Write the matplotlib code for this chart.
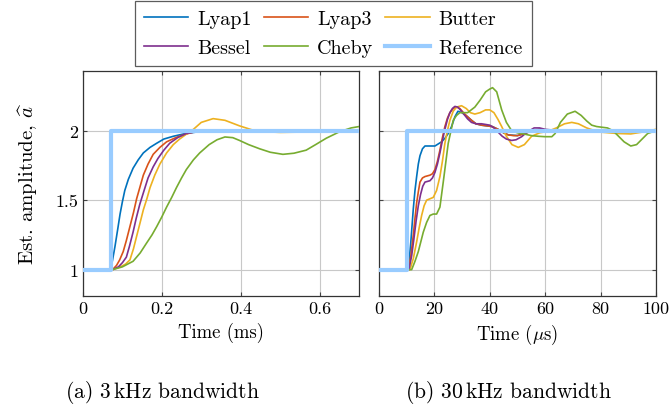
import matplotlib
matplotlib.use('Agg')
import matplotlib.pyplot as plt

# 估计幅值的阶跃响应，左: 3 kHz 带宽 (ms)，右: 30 kHz 带宽 (µs)

labels = ['Lyap1', 'Lyap3', 'Butter', 'Bessel', 'Cheby', 'Reference']
colors = ['#0072BD', '#D95319', '#EDB120', '#7E2F8E', '#77AC30', '#99CCFF']

# ---------- (a) 3 kHz ----------
t_lyap1_a = [0, 0.07, 0.075, 0.081, 0.088, 0.094, 0.1, 0.106, 0.115, 0.127, 0.14, 0.153, 0.17, 0.187,
             0.205, 0.229, 0.26, 0.3, 0.4, 0.7]
v_lyap1_a = [1, 1, 1.07, 1.165, 1.29, 1.40, 1.49, 1.57, 1.65, 1.73, 1.79, 1.84, 1.88, 1.91,
             1.94, 1.96, 1.98, 1.995, 2.0, 2.0]

t_lyap3_a = [0, 0.075, 0.085, 0.093, 0.102, 0.11, 0.119, 0.128, 0.136, 0.145, 0.153, 0.165, 0.178,
             0.195, 0.212, 0.235, 0.254, 0.28, 0.4, 0.7]
v_lyap3_a = [1, 1, 1.03, 1.07, 1.13, 1.21, 1.31, 1.41, 1.51, 1.60, 1.68, 1.76, 1.83,
             1.88, 1.92, 1.95, 1.97, 1.99, 2.0, 2.0]

t_butter_a = [0, 0.075, 0.095, 0.108, 0.119, 0.128, 0.136, 0.145, 0.153, 0.162, 0.17, 0.182, 0.195,
              0.212, 0.229, 0.245, 0.262, 0.28, 0.3, 0.33, 0.36, 0.397, 0.43, 0.465, 0.5, 0.549, 0.6, 0.7]
v_butter_a = [1, 1, 1.02, 1.04, 1.07, 1.15, 1.24, 1.34, 1.43, 1.51, 1.59, 1.68, 1.76,
              1.84, 1.90, 1.94, 1.975, 2.01, 2.06, 2.087, 2.075, 2.035, 2.005, 1.992, 1.988, 1.99, 2.0, 2.0]

t_bessel_a = [0, 0.075, 0.09, 0.1, 0.11, 0.118, 0.127, 0.135, 0.144, 0.155, 0.165, 0.178, 0.19,
              0.205, 0.22, 0.24, 0.262, 0.29, 0.4, 0.7]
v_bessel_a = [1, 1, 1.02, 1.05, 1.09, 1.17, 1.27, 1.37, 1.47, 1.57, 1.66, 1.74, 1.80,
              1.86, 1.91, 1.95, 1.98, 1.995, 2.0, 2.0]

t_cheby_a = [0, 0.075, 0.1, 0.127, 0.145, 0.161, 0.175, 0.187, 0.2, 0.212, 0.225, 0.237, 0.25, 0.262,
             0.28, 0.296, 0.32, 0.34, 0.36, 0.38, 0.397, 0.42, 0.448, 0.475, 0.507, 0.535, 0.566,
             0.59, 0.617, 0.651, 0.68, 0.7]
v_cheby_a = [1, 1, 1.02, 1.06, 1.12, 1.19, 1.25, 1.31, 1.38, 1.45, 1.52, 1.59, 1.66, 1.72,
             1.79, 1.84, 1.90, 1.935, 1.955, 1.95, 1.93, 1.90, 1.87, 1.845, 1.83, 1.838, 1.86,
             1.90, 1.946, 1.993, 2.02, 2.03]

t_ref_a = [0, 0.07, 0.07, 0.7]
v_ref_a = [1, 1, 2, 2]

# ---------- (b) 30 kHz ----------
t_lyap1_b = [0, 10.6, 11.5, 12.4, 13.0, 13.6, 14.2, 14.8, 15.7, 16.6, 18.4, 20.2, 21.4, 22.6, 24,
             25, 26.2, 27.4, 28.5, 30, 32, 33.4, 35, 37, 40.9, 43, 45, 46.7, 50, 54, 58, 65, 80, 100]
v_lyap1_b = [1, 1, 1.2, 1.44, 1.57, 1.67, 1.76, 1.82, 1.87, 1.89, 1.89, 1.89, 1.905, 1.92, 1.95,
             1.98, 2.03, 2.10, 2.14, 2.13, 2.10, 2.075, 2.05, 2.04, 2.03, 2.01, 1.985, 1.97, 1.965,
             1.99, 2.01, 1.995, 2.0, 2.0]

t_lyap3_b = [0, 10.6, 11.5, 12.4, 13.0, 13.6, 14.2, 14.8, 15.7, 16.6, 17.5, 18.4, 19.3, 20.2, 21.1,
             22, 22.9, 23.8, 24.7, 25.6, 26.8, 28, 29.2, 30.5, 32, 33.4, 35, 37, 39, 40.9, 43, 45,
             46.7, 48.5, 50, 52, 54, 56, 58, 60, 65, 70, 75, 80, 90, 100]
v_lyap3_b = [1, 1, 1.1, 1.25, 1.37, 1.48, 1.56, 1.63, 1.66, 1.67, 1.675, 1.68, 1.69, 1.72, 1.78,
             1.86, 1.95, 2.03, 2.09, 2.13, 2.16, 2.17, 2.16, 2.13, 2.10, 2.075, 2.05, 2.04, 2.035,
             2.03, 2.01, 1.985, 1.97, 1.965, 1.965, 1.975, 1.99, 2.005, 2.01, 2.005, 1.995, 2.0,
             2.005, 2.0, 2.0, 2.0]

t_butter_b = [0, 11.2, 12.4, 13.6, 14.5, 15.4, 16.3, 17.2, 18.4, 19.6, 20.8, 22, 22.9, 23.8, 24.7,
              25.6, 26.8, 28, 29.8, 31.5, 33, 34.6, 36.5, 38.5, 40, 41.5, 43, 44.3, 46, 48, 50.3,
              52.5, 55.1, 58, 61, 64, 67, 69.6, 72, 75, 78, 80, 83, 86, 90.9, 95, 100]
v_butter_b = [1, 1, 1.08, 1.2, 1.3, 1.39, 1.46, 1.50, 1.51, 1.52, 1.57, 1.67, 1.78, 1.91, 2.0,
              2.075, 2.14, 2.17, 2.18, 2.16, 2.13, 2.12, 2.13, 2.15, 2.15, 2.13, 2.08, 2.03, 1.96,
              1.90, 1.88, 1.90, 1.96, 1.985, 1.995, 2.02, 2.05, 2.06, 2.05, 2.02, 2.0, 1.99,
              1.985, 1.98, 1.977, 1.99, 2.01]

t_bessel_b = [0, 10.8, 11.8, 12.6, 13.4, 14.2, 15, 15.8, 16.6, 17.5, 18.4, 19.3, 20.2, 21.1, 22,
              22.9, 23.8, 24.7, 25.6, 26.5, 27.4, 28.5, 29.8, 31, 32, 33.4, 35, 37, 40, 41.5, 43,
              44.5, 46, 47.9, 49.5, 51.5, 53.5, 56, 58, 60, 65, 70, 80, 100]
v_bessel_b = [1, 1, 1.1, 1.22, 1.35, 1.46, 1.54, 1.60, 1.63, 1.635, 1.64, 1.66, 1.70, 1.76, 1.84,
              1.93, 2.01, 2.08, 2.13, 2.16, 2.175, 2.17, 2.14, 2.11, 2.085, 2.06, 2.05, 2.05, 2.04,
              2.02, 1.99, 1.96, 1.94, 1.93, 1.935, 1.957, 1.99, 2.02, 2.02, 2.01, 2.0, 2.0, 2.0, 2.0]

t_cheby_b = [0, 11.8, 13, 14.2, 15.1, 16, 17.2, 18.4, 19.6, 20.8, 22, 23.2, 24.1, 25, 26, 26.8, 28,
             29.2, 30.4, 32, 34.6, 36.5, 38.5, 40, 41, 42.5, 44.3, 46, 47.9, 50, 52.7, 55, 57.5, 60,
             62.4, 63.6, 65.5, 68, 70.8, 73, 75, 76.8, 78.6, 80.5, 82.5, 84.5, 86.5, 88.5, 90.9, 93,
             95, 97, 100]
v_cheby_b = [1, 1, 1.06, 1.13, 1.2, 1.27, 1.34, 1.39, 1.40, 1.40, 1.45, 1.63, 1.77, 1.91, 2.0,
             2.075, 2.11, 2.13, 2.13, 2.13, 2.17, 2.22, 2.28, 2.30, 2.31, 2.28, 2.15, 2.06, 2.0,
             1.985, 1.975, 1.965, 1.96, 1.957, 1.957, 1.98, 2.06, 2.12, 2.14, 2.11, 2.07, 2.04,
             2.03, 2.025, 2.02, 2.0, 1.96, 1.92, 1.89, 1.9, 1.94, 1.98, 2.0]

t_ref_b = [0, 10, 10, 100]
v_ref_b = [1, 1, 2, 2]

data_a = [(t_lyap1_a, v_lyap1_a), (t_lyap3_a, v_lyap3_a), (t_butter_a, v_butter_a),
          (t_bessel_a, v_bessel_a), (t_cheby_a, v_cheby_a), (t_ref_a, v_ref_a)]
data_b = [(t_lyap1_b, v_lyap1_b), (t_lyap3_b, v_lyap3_b), (t_butter_b, v_butter_b),
          (t_bessel_b, v_bessel_b), (t_cheby_b, v_cheby_b), (t_ref_b, v_ref_b)]

# 字体: 类似 LaTeX 的 Computer Modern
plt.rcParams['font.family'] = ['cmr10', 'DejaVu Serif']
plt.rcParams['mathtext.fontset'] = 'cm'
plt.rcParams['axes.formatter.use_mathtext'] = True
plt.rcParams['font.size'] = 13

fig = plt.figure(figsize=(6.71, 4.10), dpi=100)
ax1 = fig.add_axes([0.1237, 0.2756, 0.4113, 0.5488])
ax2 = fig.add_axes([0.5648, 0.2756, 0.4128, 0.5488])

lines = []
for ax, data in [(ax1, data_a), (ax2, data_b)]:
    for i, (t, v) in enumerate(data):
        if labels[i] == 'Reference':
            l, = ax.plot(t, v, color=colors[i], lw=3, label=labels[i], zorder=5)
        else:
            l, = ax.plot(t, v, color=colors[i], lw=1.2, label=labels[i], zorder=3)
        if ax is ax1:
            lines.append(l)
    ax.set_ylim(0.81, 2.43)
    ax.set_yticks([1, 1.5, 2])
    ax.grid(True, color='#c8c8c8', lw=0.8)
    ax.set_axisbelow(True)
    ax.tick_params(direction='in', top=True, right=True, length=3, color='#444444')
    for s in ax.spines.values():
        s.set_color('#333333')
        s.set_linewidth(0.9)

ax1.set_xlim(0, 0.7)
ax1.set_xticks([0, 0.2, 0.4, 0.6])
ax1.set_xticklabels(['0', '0.2', '0.4', '0.6'])
ax1.set_yticklabels(['1', '1.5', '2'])
ax1.set_xlabel('Time (ms)', fontsize=13.5)
ax1.set_ylabel(r'Est. amplitude, $\widehat{a}$', fontsize=15, labelpad=11)

ax2.set_xlim(0, 100)
ax2.set_xticks([0, 20, 40, 60, 80, 100])
ax2.set_xticklabels(['0', '20', '40', '60', '80', '100'])
ax2.set_yticklabels([])
ax2.set_xlabel(r'Time ($\mu$s)', fontsize=13.5)

# 子图标题
fig.text(0.242, 0.043, r'(a) $3\,$kHz bandwidth', ha='center', va='center', fontsize=15.5)
fig.text(0.757, 0.043, r'(b) $30\,$kHz bandwidth', ha='center', va='center', fontsize=15.5)

# 图例按行排列: ncol=3 时按列填充，所以重新排序
order = [0, 3, 1, 4, 2, 5]
leg = fig.legend(handles=[lines[i] for i in order], labels=[labels[i] for i in order],
                 ncol=3, loc='upper center', fontsize=14.5,
                 bbox_to_anchor=(0.497, 0.995), borderaxespad=0, frameon=True, fancybox=False,
                 edgecolor='#333333', handlelength=2.2, columnspacing=0.6,
                 borderpad=0.45, labelspacing=0.55, handletextpad=0.45)
leg.get_frame().set_linewidth(0.9)

plt.savefig('out.png', dpi=100)
